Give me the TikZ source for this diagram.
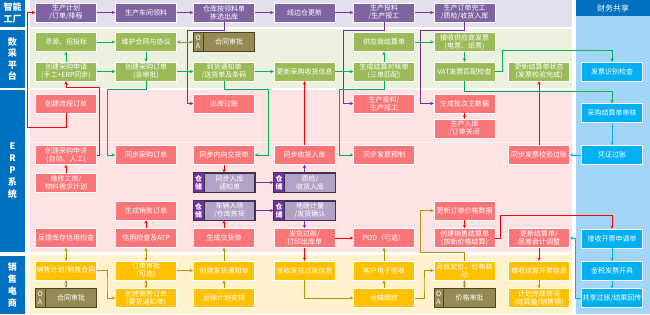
\documentclass[tikz,border=0pt]{standalone}
\usepackage{fontspec}
\setmainfont{Noto Sans CJK SC}
\usetikzlibrary{arrows.meta,calc}
\definecolor{bandP}{HTML}{E4DFEC}
\definecolor{bandG}{HTML}{EBF1DE}
\definecolor{bandR}{HTML}{FDE3E3}
\definecolor{bandY}{HTML}{FFF2CC}
\definecolor{bandB}{HTML}{A3D5F8}
\definecolor{hdr}{HTML}{0070C0}
\definecolor{cP}{HTML}{8064A2}
\definecolor{cG}{HTML}{9BBB59}
\definecolor{cR}{HTML}{FA7577}
\definecolor{cY}{HTML}{FFC000}
\definecolor{cB}{HTML}{00B0F0}
\definecolor{cOA}{HTML}{948A54}
\definecolor{cOAd}{HTML}{4A4527}
\definecolor{cWH}{HTML}{B3A2C7}
\definecolor{cWHl}{HTML}{7030A0}
\definecolor{cWHd}{HTML}{3F3151}
\definecolor{lP}{HTML}{7030A0}
\definecolor{lG}{HTML}{00B050}
\definecolor{lR}{HTML}{FF0000}
\definecolor{lB}{HTML}{00B0F0}
\definecolor{lY}{HTML}{BF9000}
\definecolor{lOA}{HTML}{A08A5A}
\tikzset{
  box/.style={minimum width=61pt, minimum height=19pt, inner sep=0pt, align=center,
    text=white, font=\fontsize{7}{8}\selectfont, draw=white, line width=0.4pt},
  pbox/.style={box, fill=cP},
  gbox/.style={box, fill=cG},
  rbox/.style={box, fill=cR},
  ybox/.style={box, fill=cY},
  bbox/.style={box, fill=cB},
  oabox/.style={box, fill=cOA, draw=cOAd, line width=0.8pt},
  whbox/.style={box, fill=cWH, draw=cWHd, line width=0.8pt},
  txt/.style={inner sep=0pt, align=center, text=white, font=\fontsize{7}{8}\selectfont},
  lab/.style={fill=hdr, inner sep=0pt, align=center, text=white, font=\fontsize{9}{12}\selectfont\bfseries},
  arr/.style={-{Stealth[length=3.5pt,width=3.2pt]}, line width=0.8pt},
  dbl/.style={{Stealth[length=3.5pt,width=3.2pt]}-{Stealth[length=3.5pt,width=3.2pt]}, line width=0.8pt},
  pl/.style={arr, draw=lP},
  gl/.style={arr, draw=lG},
  rl/.style={arr, draw=lR},
  bl/.style={arr, draw=lB},
  yl/.style={arr, draw=lY},
  yd/.style={dbl, draw=lY},
  od/.style={dbl, draw=lOA},
}
\newcommand{\oanode}[4]{%
  \node[oabox] (#1) at (#2,#3) {};
  \draw[cOAd, line width=0.6pt] ([xshift=10pt]#1.north west) -- ([xshift=10pt]#1.south west);
  \node[txt] (#1o) at ([xshift=5pt]#1.west) {O\\A};
  \node[txt] (#1t) at ([xshift=5pt]#1.center) {#4};
}
\newcommand{\whnode}[4]{%
  \node[whbox] (#1) at (#2,#3) {};
  \fill[cWHl] (#1.north west) rectangle ([xshift=11pt]#1.south west);
  \draw[cWHd, line width=0.8pt] (#1.north west) rectangle (#1.south east);
  \draw[cWHd, line width=0.6pt] ([xshift=11pt]#1.north west) -- ([xshift=11pt]#1.south west);
  \node[txt] (#1o) at ([xshift=5.5pt]#1.west) {\bfseries 仓\\\bfseries 储};
  \node[txt] (#1t) at ([xshift=5.5pt]#1.center) {#4};
}
\begin{document}
\begin{tikzpicture}[x=1pt,y=-1pt]
\useasboundingbox (0,0) rectangle (650,314);
% bands
\fill[bandP] (30,0) rectangle (572,27);
\fill[bandG] (30,29) rectangle (572,88);
\fill[bandR] (30,90) rectangle (572,252);
\fill[bandY] (30,255) rectangle (572,314);
\fill[bandB] (576,0) rectangle (650,314);
\draw[white, densely dotted, line width=0.6pt] (30,142) -- (572,142);
% labels
\node[lab, minimum width=25pt, minimum height=27pt] (L1) at (12.5,13.5) {智能\\工厂};
\node[lab, minimum width=25pt, minimum height=58pt, font=\fontsize{9}{11.5}\selectfont\bfseries] (L2) at (12.5,59) {数\\采\\平\\台};
\node[lab, minimum width=25pt, minimum height=162pt] (L3) at (12.5,171) {E\\R\\P\\系\\统};
\node[lab, minimum width=25pt, minimum height=58pt] (L4) at (12.5,285) {销\\售\\电\\商};
\node[lab, minimum width=74pt, minimum height=16pt, font=\fontsize{8}{9}\selectfont] (L5) at (613,8) {财务共享};
% smart factory
\node[pbox] (P1) at (66,12.5) {生产计划\\/订单/排程};
\node[pbox] (P2) at (146,12.5) {生产车间领料};
\node[pbox] (P3) at (224,12.5) {仓库按领料单\\拣选出库};
\node[pbox] (P4) at (304.5,12.5) {线边仓更新};
\node[pbox] (P5) at (384,12.5) {生产投料\\/生产报工};
\node[pbox] (P6) at (464.5,12.5) {生产订单完工\\/质检/收货入库};
% data platform
\node[gbox] (G1) at (66,42) {寻源、招投标};
\node[gbox] (G2) at (146,42) {维护合同与协议};
\oanode{OA1}{224}{42}{合同审批}
\node[gbox] (G3) at (66,71.5) {创建采购申请\\(手工+ERP同步)};
\node[gbox] (G4) at (146,71.5) {创建采购订单\\(含审批)};
\node[gbox] (G5) at (224,71.5) {到货通知单\\/送货单及条码};
\node[gbox] (G6) at (304.5,71.5) {更新采购收货信息};
\node[gbox] (G7) at (384,42) {供应商结算单};
\node[gbox] (G8) at (384,71.5) {生成结算对帐单\\(三单匹配)};
\node[gbox] (G9) at (464.5,42) {接收供应商发票\\(电票、纸票)};
\node[gbox] (G10) at (464.5,71.5) {VAT发票匹配检查};
\node[gbox] (G11) at (539,71.5) {更新结算单状态\\(发票校验完成)};
% finance
\node[bbox] (F1) at (612,71.5) {发票识别检查};
\node[bbox] (F2) at (612,113) {采购结算单审核};
\node[bbox] (F3) at (612,155) {凭证过账};
\node[bbox] (F4) at (612,238.5) {接收开票申请单};
\node[bbox] (F5) at (612,271) {金税发票开具};
\node[bbox] (F6) at (612,298) {共享过账/结果回传};
% ERP
\node[rbox] (E1) at (66,103.5) {创建流程订单};
\node[rbox] (E2) at (66,155) {创建采购申请\\(自动、人工)};
\node[rbox] (E3) at (66,182.5) {维修工单/\\物料需求计划};
\node[rbox] (E4) at (146,155) {同步采购订单};
\node[rbox] (E5) at (224,103.5) {出库过账};
\node[rbox] (E6) at (224,155) {同步内向交货单};
\whnode{WH1}{224}{182.5}{同步入库\\通知单}
\node[rbox] (E7) at (304.5,155) {同步收货入库};
\whnode{WH2}{304.5}{182.5}{质检/\\收货入库}
\node[rbox] (E8) at (384,103.5) {生产投料/\\生产报工};
\node[rbox] (E9) at (384,155) {同步发票预制};
\node[rbox] (E10) at (464.5,103.5) {生成批次主数据};
\node[rbox] (E11) at (464.5,128.5) {生产入库\\/订单关闭};
\node[rbox] (E12) at (539,155) {同步发票校验过账};
\node[rbox] (E13) at (146,210.5) {生成销售订单};
\node[rbox] (E14) at (66,238) {反馈库存信用检查};
\node[rbox] (E15) at (146,238) {信用检查及ATP};
\whnode{WH3}{224}{210.5}{车辆入场\\/仓库拣货}
\whnode{WH4}{304.5}{210.5}{地磅计量\\/发货确认}
\node[rbox] (E16) at (224,238) {生成交货单};
\node[rbox] (E17) at (304.5,238) {发货过账/\\打印出库单};
\node[rbox] (E18) at (384,238) {POD（可选）};
\node[rbox] (E19) at (464.5,210.5) {更新订单价格数据};
\node[rbox] (E20) at (464.5,238) {创建销售结算单\\(按新价格结算)};
\node[rbox] (E21) at (539,238) {更新结算单/\\尾差会计调整};
% sales
\node[ybox] (S1) at (66,270.5) {销售计划/销售合同};
\oanode{OA2}{66}{298}{合同审批}
\node[ybox] (S2) at (146,270.5) {订单审批\\(可选)};
\node[ybox] (S3) at (146,298) {创建销售订单\\(要货通知单)};
\node[ybox] (S4) at (224,270.5) {创建发货通知单};
\node[ybox] (S5) at (224,298) {运输计划安排};
\node[ybox] (S6) at (304.5,270.5) {接收发货过账信息};
\node[ybox] (S7) at (384,270.5) {客户电子签收};
\node[ybox] (S8) at (384,298) {运输跟踪};
\node[ybox] (S9) at (464.5,270.5) {月底定价、价格联\\动};
\oanode{OA3}{464.5}{298}{价格审批}
\node[ybox] (S10) at (539,270.5) {接收结算开票信息};
\node[ybox] (S11) at (539,298) {计划完成情况\\(结算量/销售额)};
% purple connectors
\draw[pl] (P1.east) -- (P2.west);
\draw[pl] (P2.east) -- (P3.west);
\draw[pl] (P3.east) -- (P4.west);
\draw[pl] (P4.east) -- (P5.west);
\draw[pl] (P5.east) -- (P6.west);
\draw[pl] (P3.south) |- (187,30) |- (E5.west);
\draw[pl] (P5.south) |- (343,30) |- (E8.west);
\draw[pl] (P6.south) |- (420,30) |- (E10.west);
\draw[pl] (WH1.east) -- (WH2.west);
\draw[pl] (WH2.north) -- (E7.south);
\draw[pl] (WH3.east) -- (WH4.west);
\draw[pl] (WH4.south) -- (E17.north);
% green connectors
\draw[gl] (G1.east) -- (G2.west);
\draw[od] (G2.east) -- (OA1.west);
\draw[gl] (G3.north) -- (G1.south);
\draw[gl] (G2.south) -- (G4.north);
\draw[gl] (G3.east) -- (G4.west);
\draw[gl] (G4.east) -- (G5.west);
\draw[gl] (G5.east) -- (G6.west);
\draw[gl] (G6.east) -- (G8.west);
\draw[gl] (G8.north) -- (G7.south);
\draw[gl] (G7.east) -- (G9.west);
\draw[gl] (G9.south) -- (G10.north);
\draw[gl] (G4.south) |- (107,89) |- (E4.west);
\draw[gl] (G5.south) |- (268,89) |- (E6.east);
\draw[gl] (G8.south) |- (339,89) |- (E9.west);
\draw[gl] (G10.east) -| (502,50) -| (F1.north);
\draw[gl] (G10.south) |- (612,91) -- (F2.north);
% red connectors
\draw[rl] (E1.south) |- (27,127) |- (P1.west);
\draw[rl] (E2.east) -| (99,87) -| (G3.south);
\draw[rl] (E3.north) -- (E2.south);
\draw[rl] (E6.south) -- (WH1.north);
\draw[rl] (E7.north) -- (G6.south);
\draw[rl] (E10.south) -- (E11.north);
\draw[rl] (E12.north) -- (G11.south);
\draw[rl] (E15.north) -- (E13.south);
\draw[rl] (E16.north) -- (WH3.south);
\draw[rl] (E17.east) -- (E18.west);
\draw[rl] (E17.south) -- (S6.north);
\draw[rl] (E19.south) -- (E20.north);
\draw[rl] (E20.east) -| (500,215) -| (F4.north);
\draw[rl] (E21.south) -- (S10.north);
% blue connectors
\draw[bl] (F2.south) -- (F3.north);
\draw[bl] (F3.west) -- (E12.east);
\draw[bl] (F4.south) -- (F5.north);
\draw[bl] (F5.south) -- (F6.north);
\draw[bl] (F6.west) -- (575,298) |- (E21.east);
% gold connectors
\draw[yd] (E14.south) -- (S1.north);
\draw[od] (S1.south) -- (OA2.north);
\draw[yl] (S1.east) -| (107,284) |- (S3.west);
\draw[yd] (E15.south) -- (S2.north);
\draw[yd] (S2.south) -- (S3.north);
\draw[yl] (S2.east) -- (S4.west);
\draw[yl] (S5.north) -- (S4.south);
\draw[yl] (S4.north) -- (E16.south);
\draw[yl] (S6.south) |- (S8.west);
\draw[yl] (S8.north) -- (S7.south);
\draw[yl] (S7.north) -- (E18.south);
\draw[yl] (S8.east) -| (424,284) |- (S9.west);
\draw[yl] (S9.north) |- (420,252) |- (E19.west);
\draw[od] (S9.south) -- (OA3.north);
\draw[yl] (S10.south) -- (S11.north);
\end{tikzpicture}
\end{document}
